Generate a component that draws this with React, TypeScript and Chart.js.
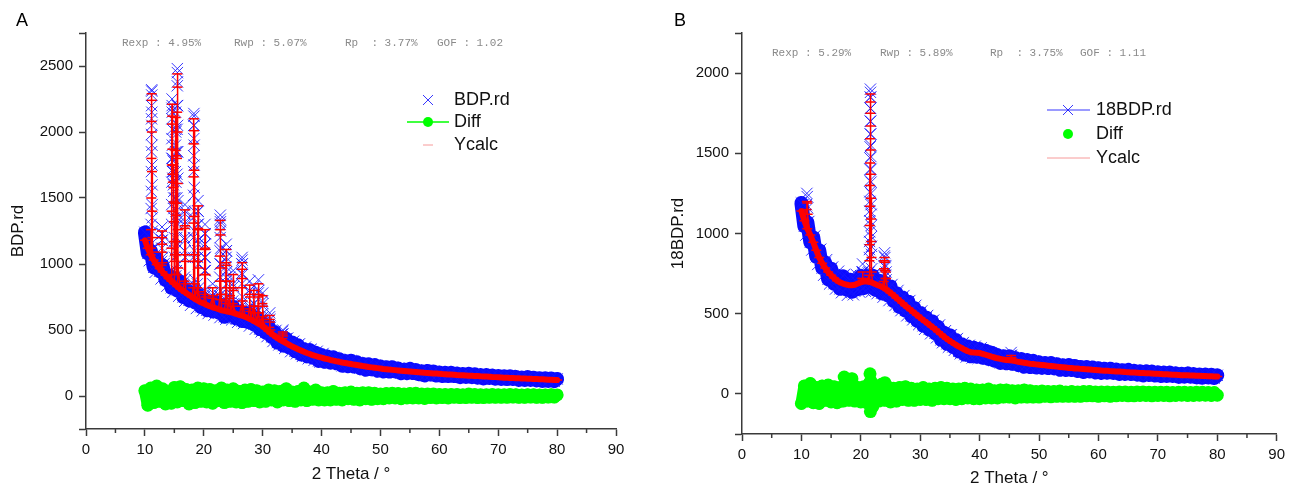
import React, { useEffect, useRef } from 'react';
import { Chart, registerables } from 'chart.js';

Chart.register(...registerables);

const FONT = '"Liberation Sans", Arial, Helvetica, sans-serif';
const MONO = '"Liberation Mono", "DejaVu Sans Mono", monospace';

// 2-theta sampling of the background curves: 10° .. 80°, step 0.5°
const THETA_START = 10;
const THETA_STEP = 0.5;
// extra scattered observations between the grid points, 10.25° .. 40.25°
const EDGE_START = 10.25;

// ---------------- Panel A (BDP.rd) ----------------
const obsA = [
  1240, 1080, 1100, 975, 1040, 945, 990, 880, 915, 820,
  890, 800, 867, 750, 800, 725, 785, 710, 767, 675,
  730, 650, 715, 642, 715, 633, 690, 600, 670, 615,
  675, 587, 640, 568, 630, 560, 620, 543, 590, 507,
  550, 480, 525, 447, 485, 405, 445, 382, 435, 368,
  405, 340, 385, 315, 355, 301, 348, 290, 328, 266,
  310, 259, 299, 253, 293, 248, 279, 229, 265, 226,
  267, 223, 255, 211, 242, 199, 240, 202, 234, 191,
  223, 185, 218, 185, 218, 186, 209, 172, 200, 173,
  206, 174, 197, 165, 188, 156, 190, 163, 186, 155,
  178, 151, 177, 151, 177, 151, 171, 143, 167, 144,
  169, 143, 164, 139, 159, 133, 159, 136, 156, 131,
  152, 129, 149, 128, 149, 128, 145, 122, 141, 122,
  143, 122, 139, 118, 135, 114, 135, 116, 133, 112,
  129,
];
const obsEdgeA = [
  1225, 1025, 1110, 937, 1050, 887, 1002, 832, 945, 785,
  910, 756, 878, 717, 832, 687, 807, 663, 786, 645,
  760, 625, 746, 613, 726, 594, 717, 582, 697, 577,
  691, 558, 671, 549, 655, 530, 629, 506, 603, 486,
  575, 450, 531, 413, 497, 387, 468, 361, 439, 336,
  415, 320, 395, 300, 370, 282, 354, 271, 339, 258,
  322,
];
const calcA = [
  1180, 1120, 1070, 1030, 995, 965, 940, 915, 890, 870,
  850, 830, 812, 795, 780, 765, 750, 735, 722, 710,
  700, 690, 680, 672, 665, 658, 650, 645, 640, 635,
  630, 622, 615, 608, 600, 590, 580, 568, 555, 542,
  530, 510, 490, 472, 455, 440, 425, 412, 400, 388,
  375, 365, 355, 345, 335, 326, 318, 310, 303, 296,
  290, 284, 279, 273, 268, 263, 259, 254, 250, 246,
  242, 238, 235, 231, 227, 224, 220, 217, 214, 211,
  208, 205, 203, 200, 198, 196, 194, 192, 190, 188,
  186, 184, 182, 180, 178, 176, 175, 173, 171, 170,
  168, 166, 165, 163, 162, 161, 159, 158, 157, 156,
  154, 153, 152, 151, 149, 148, 147, 146, 144, 143,
  142, 141, 139, 138, 137, 136, 135, 134, 133, 132,
  131, 130, 129, 128, 127, 126, 125, 124, 123, 122,
  121,
];
const diffA = [
  40, -70, 60, -50, 75, -40, 55, -60, 30, -55,
  65, -45, 70, -35, 50, -60, 45, -50, 60, -40,
  55, -45, 50, -55, 40, -35, 60, -50, 45, -40,
  55, -45, 35, -50, 45, -40, 50, -35, 40, -45,
  30, -40, 45, -30, 40, -45, 35, -30, 55, -35,
  30, -40, 35, -30, 60, -35, 30, -25, 45, -30,
  25, -30, 25, -30, 35, -25, 20, -30, 25, -20,
  30, -25, 20, -30, 25, -20, 25, -25, 20, -20,
  15, -20, 18, -15, 20, -15, 18, -20, 15, -15,
  18, -15, 20, -15, 15, -18, 15, -12, 15, -15,
  12, -12, 12, -15, 12, -10, 12, -12, 10, -12,
  15, -10, 12, -12, 10, -12, 10, -10, 12, -10,
  10, -10, 10, -10, 12, -8, 10, -10, 8, -10,
  10, -8, 10, -10, 8, -10, 8, -8, 10, -8,
  8,
];
// Bragg peaks of panel A: [2theta, intensity]
const obsPeaksA = [
  [11.02, 1150], [11.05, 1300], [11.08, 1550], [11.11, 1850], [11.13, 2100], [11.15, 2320], [11.17, 2280], [11.19, 2050], [11.21, 1750], [11.24, 1450], [11.27, 1250], [11.3, 1120],
  [11.06, 1420], [11.1, 1700], [11.12, 1980], [11.14, 2200], [11.16, 2310], [11.18, 2150], [11.2, 1900], [11.22, 1600], [11.26, 1350],
  [12.82, 1020], [12.86, 1120], [12.89, 1230], [12.91, 1280], [12.94, 1180], [12.98, 1050], [12.88, 1180], [12.93, 1230],
  [14.48, 950], [14.52, 1150], [14.55, 1450], [14.58, 1800], [14.6, 2100], [14.62, 2250], [14.64, 2150], [14.67, 1900], [14.7, 1700], [14.75, 1650], [14.8, 1780], [14.85, 1600], [14.9, 1500], [14.95, 1350], [15.0, 1200], [15.05, 1050],
  [14.54, 1300], [14.57, 1620], [14.59, 1950], [14.61, 2180], [14.63, 2200], [14.66, 2020], [14.69, 1800], [14.78, 1720], [14.83, 1700], [14.88, 1550], [14.93, 1420],
  [15.12, 1100], [15.16, 1500], [15.19, 1900], [15.21, 2150], [15.24, 1850], [15.28, 1400],
  [15.18, 1700], [15.2, 2020], [15.23, 2000], [15.26, 1620],
  [15.35, 950], [15.39, 1200], [15.42, 1500], [15.45, 1850], [15.48, 2200], [15.51, 2480], [15.53, 2380], [15.56, 2050], [15.59, 1650], [15.62, 1300], [15.66, 1000],
  [15.4, 1350], [15.44, 1680], [15.47, 2020], [15.5, 2350], [15.52, 2450], [15.55, 2200], [15.58, 1850], [15.61, 1480], [15.64, 1150],
  [16.7, 900], [16.74, 1100], [16.77, 1300], [16.8, 1450], [16.83, 1320], [16.87, 1050], [16.92, 880],
  [16.76, 1200], [16.79, 1380], [16.82, 1400], [16.85, 1180],
  [18.18, 850], [18.22, 1050], [18.25, 1350], [18.28, 1700], [18.3, 1950], [18.32, 2140], [18.34, 2050], [18.37, 1750], [18.4, 1400], [18.44, 1100], [18.48, 880],
  [18.24, 1200], [18.27, 1520], [18.29, 1820], [18.31, 2050], [18.33, 2120], [18.36, 1900], [18.39, 1580], [18.42, 1250],
  [18.9, 850], [18.95, 1050], [18.99, 1300], [19.02, 1480], [19.05, 1300], [19.1, 1000], [19.15, 820],
  [18.98, 1180], [19.01, 1400], [19.04, 1400], [19.07, 1150],
  [20.1, 800], [20.14, 950], [20.18, 1150], [20.21, 1300], [20.24, 1150], [20.28, 950], [20.33, 780],
  [20.16, 1050], [20.2, 1230], [20.23, 1230], [20.26, 1050],
  [21.45, 760], [21.5, 850], [21.55, 780],
  [22.68, 760], [22.72, 900], [22.76, 1100], [22.79, 1300], [22.81, 1370], [22.84, 1250], [22.88, 1000], [22.93, 800],
  [22.75, 1000], [22.78, 1200], [22.8, 1340], [22.83, 1320], [22.86, 1120],
  [23.7, 750], [23.74, 900], [23.78, 1050], [23.81, 1150], [23.84, 1020], [23.89, 850], [23.95, 720],
  [23.76, 980], [23.8, 1100], [23.83, 1100], [23.86, 940],
  [24.35, 760], [24.4, 900], [24.45, 780],
  [24.92, 720], [24.96, 850], [25.0, 950], [25.04, 830], [25.09, 700],
  [26.4, 700], [26.44, 850], [26.48, 1000], [26.51, 1050], [26.54, 920], [26.59, 750],
  [26.46, 930], [26.5, 1030], [26.53, 1000],
  [27.72, 680], [27.76, 800], [27.8, 870], [27.84, 780], [27.89, 660],
  [28.45, 700], [28.5, 830], [28.55, 700],
  [29.2, 650], [29.24, 780], [29.28, 880], [29.32, 800], [29.37, 650],
  [29.92, 620], [29.96, 720], [30.0, 780], [30.04, 700], [30.09, 600],
  [31.12, 540], [31.16, 600], [31.2, 630], [31.24, 580], [31.29, 520],
  [33.33, 450], [33.37, 490], [33.41, 500], [33.45, 470],
];
const calcPeaksA = [
  [11.02, 1120], [11.05, 1260], [11.08, 1500], [11.11, 1800], [11.13, 2080], [11.15, 2290], [11.17, 2240], [11.19, 2000], [11.21, 1700], [11.24, 1400], [11.27, 1200], [11.3, 1090],
  [12.82, 990], [12.86, 1090], [12.89, 1200], [12.91, 1250], [12.94, 1150], [12.98, 1010],
  [14.48, 920], [14.52, 1120], [14.55, 1400], [14.58, 1750], [14.6, 2060], [14.62, 2210], [14.64, 2120], [14.67, 1870], [14.7, 1680], [14.75, 1620], [14.8, 1750], [14.85, 1580], [14.9, 1470], [14.95, 1320], [15.0, 1170], [15.05, 1020],
  [15.12, 1070], [15.16, 1460], [15.19, 1860], [15.21, 2110], [15.24, 1820], [15.28, 1370],
  [15.35, 920], [15.39, 1170], [15.42, 1460], [15.45, 1800], [15.48, 2150], [15.51, 2440], [15.53, 2340], [15.56, 2000], [15.59, 1610], [15.62, 1260], [15.66, 970],
  [16.7, 870], [16.74, 1070], [16.77, 1270], [16.8, 1410], [16.83, 1290], [16.87, 1020], [16.92, 850],
  [18.18, 820], [18.22, 1020], [18.25, 1310], [18.28, 1660], [18.3, 1910], [18.32, 2100], [18.34, 2010], [18.37, 1710], [18.4, 1360], [18.44, 1070], [18.48, 850],
  [18.9, 820], [18.95, 1020], [18.99, 1260], [19.02, 1440], [19.05, 1270], [19.1, 970], [19.15, 790],
  [20.1, 770], [20.14, 920], [20.18, 1110], [20.21, 1260], [20.24, 1120], [20.28, 920], [20.33, 750],
  [21.45, 740], [21.5, 820], [21.55, 760],
  [22.68, 730], [22.72, 870], [22.76, 1060], [22.79, 1260], [22.81, 1330], [22.84, 1220], [22.88, 970], [22.93, 770],
  [23.7, 720], [23.74, 870], [23.78, 1010], [23.81, 1110], [23.84, 990], [23.89, 820], [23.95, 700],
  [24.35, 740], [24.4, 870], [24.45, 760],
  [24.92, 700], [24.96, 820], [25.0, 920], [25.04, 800], [25.09, 680],
  [26.4, 680], [26.44, 820], [26.48, 960], [26.51, 1010], [26.54, 890], [26.59, 720],
  [27.72, 660], [27.76, 770], [27.8, 840], [27.84, 750], [27.89, 640],
  [28.45, 680], [28.5, 800], [28.55, 680],
  [29.2, 630], [29.24, 750], [29.28, 850], [29.32, 770], [29.37, 630],
  [29.92, 600], [29.96, 700], [30.0, 760], [30.04, 680], [30.09, 580],
  [31.12, 520], [31.16, 580], [31.2, 610], [31.24, 560], [31.29, 500],
  [33.33, 435], [33.37, 470], [33.41, 485], [33.45, 455],
];
const diffPeaksA: number[][] = [];

// ---------------- Panel B (18BDP.rd) ----------------
const obsB = [
  1190, 1045, 1070, 945, 975, 855, 895, 785, 820, 715,
  780, 687, 736, 655, 733, 652, 713, 637, 710, 653,
  736, 660, 735, 668, 737, 649, 706, 628, 693, 615,
  670, 580, 628, 542, 601, 520, 575, 485, 535, 455,
  505, 425, 476, 402, 453, 378, 418, 337, 382, 312,
  365, 293, 336, 265, 310, 245, 296, 235, 288, 232,
  280, 225, 269, 218, 257, 207, 242, 193, 234, 191,
  235, 188, 224, 180, 217, 169, 211, 168, 206, 164,
  197, 162, 193, 161, 192, 160, 185, 150, 178, 149,
  180, 149, 174, 143, 168, 137, 168, 140, 165, 134,
  160, 131, 157, 132, 157, 131, 152, 124, 148, 124,
  150, 124, 145, 120, 141, 115, 141, 118, 139, 114,
  135, 112, 133, 112, 133, 112, 129, 106, 125, 107,
  128, 107, 124, 103, 121, 100, 121, 102, 120, 99,
  116,
];
const obsEdgeB = [
  1180, 990, 1075, 897, 985, 807, 902, 740, 837, 685,
  791, 654, 765, 631, 745, 615, 737, 618, 744, 637,
  758, 640, 754, 635, 748, 625, 732, 603, 711, 582,
  682, 551, 645, 519, 613, 487, 582, 462, 552, 432,
  517, 403, 489, 375, 460, 350, 430, 319, 394, 291,
  369, 272, 345, 250, 320, 230, 303, 224, 297, 221,
  287,
];
const calcB = [
  1140, 1080, 1030, 990, 945, 895, 850, 815, 785, 760,
  740, 722, 706, 695, 688, 682, 678, 677, 680, 688,
  696, 700, 700, 698, 692, 684, 676, 668, 658, 645,
  630, 615, 598, 582, 566, 550, 535, 520, 505, 490,
  475, 460, 446, 432, 418, 403, 388, 372, 357, 342,
  330, 318, 306, 295, 285, 275, 266, 260, 258, 257,
  255, 250, 244, 238, 232, 227, 222, 218, 214, 211,
  210, 208, 204, 200, 197, 194, 191, 188, 186, 184,
  182, 180, 178, 176, 174, 172, 170, 168, 166, 164,
  162, 161, 159, 158, 156, 155, 153, 152, 150, 149,
  148, 146, 145, 144, 142, 141, 140, 139, 138, 136,
  135, 134, 133, 132, 131, 130, 129, 128, 127, 126,
  125, 124, 123, 122, 121, 120, 119, 118, 117, 117,
  116, 115, 114, 113, 113, 112, 111, 110, 110, 109,
  108,
];
const diffB = [
  -60, 50, -45, 65, -55, 40, -60, 50, -40, 55,
  -50, 45, -55, 40, -45, 60, -40, 95, -45, 40,
  -50, 45, -55, 70, -80, 50, -45, 60, -40, 45,
  -50, 35, -45, 40, -35, 45, -40, 35, -40, 30,
  -35, 40, -35, 30, -40, 35, -30, 40, -30, 35,
  -30, 30, -35, 30, -30, 35, -25, 30, -30, 25,
  -30, 25, -25, 30, -25, 20, -25, 25, -20, 25,
  -20, 20, -25, 20, -20, 25, -20, 20, -20, 15,
  -20, 18, -15, 15, -18, 15, -15, 18, -15, 12,
  -15, 15, -15, 12, -15, 15, -12, 15, -12, 12,
  -15, 12, -12, 12, -15, 10, -12, 12, -10, 12,
  -12, 10, -12, 12, -10, 12, -10, 10, -12, 10,
  -10, 10, -10, 10, -12, 8, -10, 10, -8, 10,
  -10, 8, -10, 10, -8, 10, -8, 8, -10, 8,
  -8,
];
const obsPeaksB = [
  [10.85, 1180], [10.92, 1250], [10.98, 1230], [11.05, 1160],
  [20.25, 760], [20.3, 810], [20.35, 760],
  [21.4, 760], [21.44, 850], [21.47, 950], [21.5, 1080], [21.52, 1200], [21.54, 1330], [21.56, 1470], [21.58, 1620], [21.6, 1780], [21.62, 1900], [21.64, 1850], [21.66, 1700], [21.68, 1550], [21.7, 1400], [21.72, 1250], [21.74, 1120], [21.77, 980], [21.8, 870], [21.84, 780],
  [21.45, 900], [21.49, 1010], [21.51, 1140], [21.53, 1260], [21.55, 1400], [21.57, 1540], [21.59, 1700], [21.61, 1850], [21.63, 1880], [21.65, 1780], [21.67, 1620], [21.69, 1480], [21.71, 1320], [21.73, 1180], [21.76, 1050], [21.79, 920],
  [23.85, 720], [23.9, 800], [23.95, 860], [24.0, 880], [24.05, 850], [24.1, 790], [24.15, 740], [24.2, 800], [24.25, 760],
  [45.25, 240], [45.3, 258], [45.35, 240],
];
const calcPeaksB = [
  [10.85, 1150], [10.92, 1200], [10.98, 1190], [11.05, 1120],
  [20.25, 720], [20.3, 760], [20.35, 720],
  [21.4, 740], [21.44, 830], [21.47, 930], [21.5, 1050], [21.52, 1170], [21.54, 1300], [21.56, 1440], [21.58, 1590], [21.6, 1750], [21.62, 1870], [21.64, 1820], [21.66, 1670], [21.68, 1520], [21.7, 1370], [21.72, 1220], [21.74, 1090], [21.77, 950], [21.8, 850], [21.84, 760],
  [23.85, 700], [23.9, 780], [23.95, 830], [24.0, 850], [24.05, 820], [24.1, 770], [24.15, 720], [24.2, 760], [24.25, 720],
  [45.25, 225], [45.3, 240], [45.35, 225],
];
const diffPeaksB = [
  [21.55, 125], [21.62, -110], [21.7, 80], [24.05, 70], [17.2, 105],
];

const X_TICKS = [0, 10, 20, 30, 40, 50, 60, 70, 80, 90];
const X_MINOR = [5, 15, 25, 35, 45, 55, 65, 75, 85];
const Y_TICKS_A = [0, 500, 1000, 1500, 2000, 2500];
const Y_TICKS_B = [0, 500, 1000, 1500, 2000];

const W = 645;
const H = 491;

type Panel = {
  offsetX: number;
  letter: string;
  yTitle: string;
  yMin: number;
  yMax: number;
  yTicks: number[];
  yTitlePad: number;
  plotLeft: number;
  plotRight: number;
  plotBottom: number;
  obs: number[];
  obsEdge: number[];
  calc: number[];
  diff: number[];
  obsPeaks: number[][];
  calcPeaks: number[][];
  diffPeaks: number[][];
  stats: string[];
  statsX: number[];
  statsY: number;
  legendLabels: string[];
  legendX: number;
  legendTextX: number;
  legendY: number[];
  legendVariant: 'A' | 'B';
};

const panels: Panel[] = [
  {
    offsetX: 0,
    letter: 'A',
    yTitle: 'BDP.rd',
    yMin: -250,
    yMax: 2750,
    yTicks: Y_TICKS_A,
    yTitlePad: 8,
    plotLeft: 86,
    plotRight: 616,
    plotBottom: 429,
    obs: obsA,
    obsEdge: obsEdgeA,
    calc: calcA,
    diff: diffA,
    obsPeaks: obsPeaksA,
    calcPeaks: calcPeaksA,
    diffPeaks: diffPeaksA,
    stats: ['Rexp : 4.95%', 'Rwp : 5.07%', 'Rp  : 3.77%', 'GOF : 1.02'],
    statsX: [122, 234, 345, 437],
    statsY: 43,
    legendLabels: ['BDP.rd', 'Diff', 'Ycalc'],
    legendX: 428,
    legendTextX: 454,
    legendY: [100, 122, 145],
    legendVariant: 'A',
  },
  {
    offsetX: 645,
    letter: 'B',
    yTitle: '18BDP.rd',
    yMin: -250,
    yMax: 2250,
    yTicks: Y_TICKS_B,
    yTitlePad: 23,
    plotLeft: 742,
    plotRight: 1280,
    plotBottom: 434,
    obs: obsB,
    obsEdge: obsEdgeB,
    calc: calcB,
    diff: diffB,
    obsPeaks: obsPeaksB,
    calcPeaks: calcPeaksB,
    diffPeaks: diffPeaksB,
    stats: ['Rexp : 5.29%', 'Rwp : 5.89%', 'Rp  : 3.75%', 'GOF : 1.11'],
    statsX: [772, 880, 990, 1080],
    statsY: 53,
    legendLabels: ['18BDP.rd', 'Diff', 'Ycalc'],
    legendX: 1068,
    legendTextX: 1096,
    legendY: [110, 134, 158],
    legendVariant: 'B',
  },
];

const BLUE = 'rgba(20,20,255,0.85)';
const BLUE_CORE = '#0a0aff';
const GREEN = '#00ff00';
const RED = '#ff0000';
const AXIS = '#3a3a3a';

function bgPoints(values: number[], start = THETA_START) {
  return values.map((y, i) => ({ x: start + i * THETA_STEP, y }));
}
function pairPoints(pairs: number[][]) {
  return pairs.map(([x, y]) => ({ x, y }));
}

const extrasPlugin = {
  id: 'extras',
  afterDraw(chart: any, _args: any, opts: any) {
    const p: Panel = opts.panel;
    if (!p) return;
    const ctx = chart.ctx;
    const xs = chart.scales.x;
    const area = chart.chartArea;
    const ox = p.offsetX;
    ctx.save();
    // minor ticks on x axis
    ctx.strokeStyle = AXIS;
    ctx.lineWidth = 1.5;
    for (const v of X_MINOR) {
      const px = xs.getPixelForValue(v);
      ctx.beginPath();
      ctx.moveTo(px, area.bottom);
      ctx.lineTo(px, area.bottom + 4);
      ctx.stroke();
    }
    // panel letter
    ctx.fillStyle = '#000';
    ctx.font = `18px ${FONT}`;
    ctx.textBaseline = 'middle';
    ctx.textAlign = 'left';
    ctx.fillText(p.letter, (p.letter === 'A' ? 16 : 674) - ox, 21);
    // statistics line
    ctx.fillStyle = '#8a8a8a';
    ctx.font = `11px ${MONO}`;
    p.stats.forEach((s, i) => ctx.fillText(s, p.statsX[i] - ox, p.statsY));
    // legend
    const lx = p.legendX - ox;
    const tx = p.legendTextX - ox;
    const [y0, y1, y2] = p.legendY;
    ctx.lineWidth = 1;
    if (p.legendVariant === 'B') {
      ctx.strokeStyle = BLUE;
      ctx.beginPath();
      ctx.moveTo(lx - 21, y0);
      ctx.lineTo(lx + 22, y0);
      ctx.stroke();
    }
    ctx.strokeStyle = BLUE;
    ctx.beginPath();
    ctx.moveTo(lx - 5, y0 - 5);
    ctx.lineTo(lx + 5, y0 + 5);
    ctx.moveTo(lx - 5, y0 + 5);
    ctx.lineTo(lx + 5, y0 - 5);
    ctx.stroke();
    if (p.legendVariant === 'A') {
      ctx.strokeStyle = GREEN;
      ctx.lineWidth = 1.5;
      ctx.beginPath();
      ctx.moveTo(lx - 21, y1);
      ctx.lineTo(lx + 21, y1);
      ctx.stroke();
    }
    ctx.fillStyle = GREEN;
    ctx.beginPath();
    ctx.arc(lx, y1, 5, 0, Math.PI * 2);
    ctx.fill();
    ctx.strokeStyle = '#f79a9a';
    ctx.lineWidth = 1;
    ctx.beginPath();
    if (p.legendVariant === 'A') {
      ctx.moveTo(lx - 5, y2);
      ctx.lineTo(lx + 5, y2);
    } else {
      ctx.moveTo(lx - 21, y2);
      ctx.lineTo(lx + 22, y2);
    }
    ctx.stroke();
    ctx.fillStyle = '#111';
    ctx.font = `18px ${FONT}`;
    p.legendLabels.forEach((s, i) => ctx.fillText(s, tx, p.legendY[i]));
    ctx.restore();
  },
};

function ChartPanel({ panel }: { panel: Panel }) {
  const ref = useRef<HTMLCanvasElement | null>(null);
  useEffect(() => {
    if (!ref.current) return;
    const calcBg = bgPoints(panel.calc);
    const calcPts = calcBg.concat(pairPoints(panel.calcPeaks)).sort((a, b) => a.x - b.x);
    const obsBg = bgPoints(panel.obs);
    const obsPts = obsBg
      .concat(bgPoints(panel.obsEdge, EDGE_START))
      .concat(pairPoints(panel.obsPeaks));
    const diffBg = bgPoints(panel.diff);
    const diffPts = diffBg.concat(pairPoints(panel.diffPeaks));
    const yAxisWidth = panel.plotLeft - panel.offsetX;
    const rightPad = panel.offsetX + W - panel.plotRight;
    const xAxisHeight = H - panel.plotBottom;
    const tickFont = { family: FONT, size: 15 };
    const yTickValues = [panel.yMin, ...panel.yTicks, panel.yMax];
    const chart = new Chart(ref.current, {
      type: 'scatter',
      data: {
        datasets: [
          {
            label: 'Ycalc',
            data: calcPts,
            showLine: true,
            borderColor: RED,
            borderWidth: 1.5,
            borderJoinStyle: 'round',
            pointStyle: 'line',
            pointRadius: 5,
            pointBorderWidth: 1.5,
            pointBorderColor: RED,
            order: 0,
          },
          {
            label: 'calc band',
            data: calcBg,
            showLine: true,
            borderColor: RED,
            borderWidth: 6,
            borderJoinStyle: 'round',
            borderCapStyle: 'round',
            pointRadius: 0,
            order: 1,
          },
          {
            label: panel.legendLabels[0],
            data: obsPts,
            showLine: false,
            pointStyle: 'crossRot',
            pointRadius: 8,
            pointBorderWidth: 1,
            borderColor: BLUE,
            backgroundColor: BLUE,
            order: 2,
          },
          {
            label: 'obs band',
            data: obsBg,
            showLine: true,
            borderColor: BLUE_CORE,
            borderWidth: 14,
            borderJoinStyle: 'round',
            borderCapStyle: 'round',
            pointRadius: 0,
            order: 3,
          },
          {
            label: 'Diff',
            data: diffPts,
            showLine: false,
            pointStyle: 'circle',
            pointRadius: 6.5,
            pointBorderWidth: 0,
            backgroundColor: GREEN,
            borderColor: GREEN,
            order: 4,
          },
          {
            label: 'diff band',
            data: diffBg,
            showLine: true,
            borderColor: GREEN,
            borderWidth: 12,
            borderJoinStyle: 'round',
            borderCapStyle: 'round',
            pointRadius: 0,
            order: 5,
          },
        ],
      },
      options: {
        animation: false,
        responsive: false,
        events: [],
        layout: { padding: { left: 0, right: rightPad, top: 33, bottom: 0 } },
        plugins: {
          legend: { display: false },
          tooltip: { enabled: false },
          extras: { panel },
        } as any,
        scales: {
          x: {
            type: 'linear',
            min: 0,
            max: 90,
            afterBuildTicks: (s: any) => {
              s.ticks = X_TICKS.map((v) => ({ value: v }));
            },
            afterFit: (s: any) => {
              s.height = xAxisHeight;
            },
            ticks: { font: tickFont, color: '#111', padding: 5, maxRotation: 0 },
            grid: {
              drawOnChartArea: false,
              drawTicks: true,
              tickLength: 7,
              tickColor: AXIS,
              tickWidth: 1.5,
            },
            border: { display: true, color: AXIS, width: 1.5 },
            title: {
              display: true,
              text: '2 Theta / °',
              color: '#111',
              font: { family: FONT, size: 17 },
              padding: { top: 0, bottom: panel.letter === 'A' ? 6 : 2 },
            },
          },
          y: {
            type: 'linear',
            min: panel.yMin,
            max: panel.yMax,
            afterBuildTicks: (s: any) => {
              s.ticks = yTickValues.map((v) => ({ value: v }));
            },
            afterFit: (s: any) => {
              s.width = yAxisWidth;
            },
            ticks: {
              font: tickFont,
              color: '#111',
              padding: 6,
              callback: (v: any) => (panel.yTicks.includes(Number(v)) ? String(v) : ''),
            },
            grid: {
              drawOnChartArea: false,
              drawTicks: true,
              tickLength: 7,
              tickColor: AXIS,
              tickWidth: 1.5,
            },
            border: { display: true, color: AXIS, width: 1.5 },
            title: {
              display: true,
              text: panel.yTitle,
              color: '#111',
              font: { family: FONT, size: 17 },
              padding: { top: panel.yTitlePad, bottom: 0 },
            },
          },
        },
      },
      plugins: [extrasPlugin],
    } as any);
    return () => chart.destroy();
  }, [panel]);
  return (
    <canvas
      ref={ref}
      width={W}
      height={H}
      style={{ position: 'absolute', left: panel.offsetX, top: 0, width: W, height: H }}
    />
  );
}

export default function App() {
  return (
    <div style={{ position: 'absolute', left: 0, top: 0, width: 1290, height: 491, background: '#fff' }}>
      {panels.map((p) => (
        <ChartPanel key={p.letter} panel={p} />
      ))}
    </div>
  );
}
